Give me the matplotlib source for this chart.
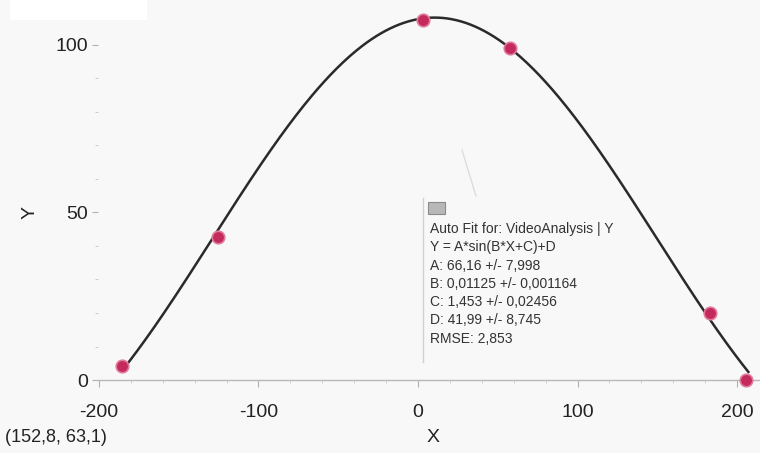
"""Auto fit of video analysis data: Y = A*sin(B*X+C)+D"""
import numpy as np
import matplotlib
matplotlib.use("Agg")
from matplotlib import pyplot
from matplotlib.patches import Rectangle

xs = [-185.6, -125.4, 3.1, 57.7, 183.0, 205.6]
ys = [4.2, 42.7, 107.5, 99.1, 20.0, 0.0]

# fit parameters as printed in the box
fit_a = 66.16
fit_b = 0.01125
fit_c = 1.453
fit_d = 41.99

fit_lines = ["Auto Fit for: VideoAnalysis | Y",
             "Y = A*sin(B*X+C)+D",
             "A: 66,16 +/- 7,998",
             "B: 0,01125 +/- 0,001164",
             "C: 1,453 +/- 0,02456",
             "D: 41,99 +/- 8,745",
             "RMSE: 2,853"]

x_ticks = [-200, -100, 0, 100, 200]
y_ticks = [0, 50, 100]
cursor_text = "(152,8, 63,1)"

pyplot.rcParams['font.family'] = ['Liberation Sans', 'DejaVu Sans']
pyplot.rcParams['axes.unicode_minus'] = False

fig = pyplot.figure(figsize=(7.6, 4.53), dpi=100)
fig.patch.set_facecolor('#f8f8f8')
ax = fig.add_axes([98 / 760, 0.150, 1 - 98 / 760, 0.850])
ax.set_facecolor('#f8f8f8')
ax.set_xlim(-200.6, 214.4)
ax.set_ylim(-1.5, 113.4)

# fitted curve, drawn over the span of the data
curve_x = np.linspace(min(xs), max(xs) + 1.5, 400)
curve_y = fit_a * np.sin(fit_b * curve_x + fit_c) + fit_d
ax.plot(curve_x, curve_y, color='#2a2a2a', linewidth=1.8, zorder=3)

# data points
ax.plot(xs, ys, linestyle='none', marker='o', markersize=9,
        markerfacecolor='#c42a5c', markeredgecolor='#e07a9c',
        markeredgewidth=1.2, zorder=4, clip_on=False)

# axes styling
for side in ['left', 'right', 'top']:
    ax.spines[side].set_visible(False)
ax.spines['bottom'].set_position(('data', 0))
ax.spines['bottom'].set_color('#b8b8b8')
ax.spines['bottom'].set_linewidth(1.0)

ax.set_xticks(x_ticks)
ax.set_yticks(y_ticks)
ax.set_xticks(np.arange(-200, 201, 20), minor=True)
ax.set_yticks(np.arange(0, 111, 10), minor=True)
ax.tick_params(axis='x', which='major', length=5, color='#b0b0b0',
               labelsize=14, pad=12, labelcolor='#222222')
ax.tick_params(axis='y', which='major', length=4, color='#b0b0b0',
               labelsize=14, pad=3, labelcolor='#222222')
ax.tick_params(which='minor', length=2, color='#c8c8c8')

# axis titles and cursor readout
fig.text(433 / 760, 1 - 438 / 453, "X", fontsize=14, color='#222222',
         ha='center', va='center')
fig.text(30 / 760, 1 - 213 / 453, "Y", fontsize=14, color='#222222',
         ha='center', va='center', rotation=90)
fig.text(5 / 760, 1 - 437 / 453, cursor_text, fontsize=13,
         color='#222222', va='center', ha='left')

# white patch top left
fig.patches.append(Rectangle((10 / 760, 1 - 20 / 453), 137 / 760, 20 / 453,
                             transform=fig.transFigure, facecolor='white',
                             edgecolor='none'))

# fit box: left border, leader, icon and text
fig.add_artist(pyplot.Line2D([423 / 760, 423 / 760],
                             [1 - 198 / 453, 1 - 362 / 453],
                             transform=fig.transFigure, color='#d0d0d0',
                             linewidth=1.0))
fig.add_artist(pyplot.Line2D([462 / 760, 476 / 760],
                             [1 - 150 / 453, 1 - 196 / 453],
                             transform=fig.transFigure, color='#dddddd',
                             linewidth=1.0))
fig.patches.append(Rectangle((428 / 760, 1 - 214 / 453), 17 / 760, 12 / 453,
                             transform=fig.transFigure, facecolor='#b8b8b8',
                             edgecolor='#8a8a8a', linewidth=0.8))
for i, line in enumerate(fit_lines):
    fig.text(430 / 760, 1 - (229 + i * 18.3) / 453, line, fontsize=10,
             color='#333333', va='center', ha='left')

fig.savefig("out.png", dpi=100, facecolor=fig.get_facecolor())
